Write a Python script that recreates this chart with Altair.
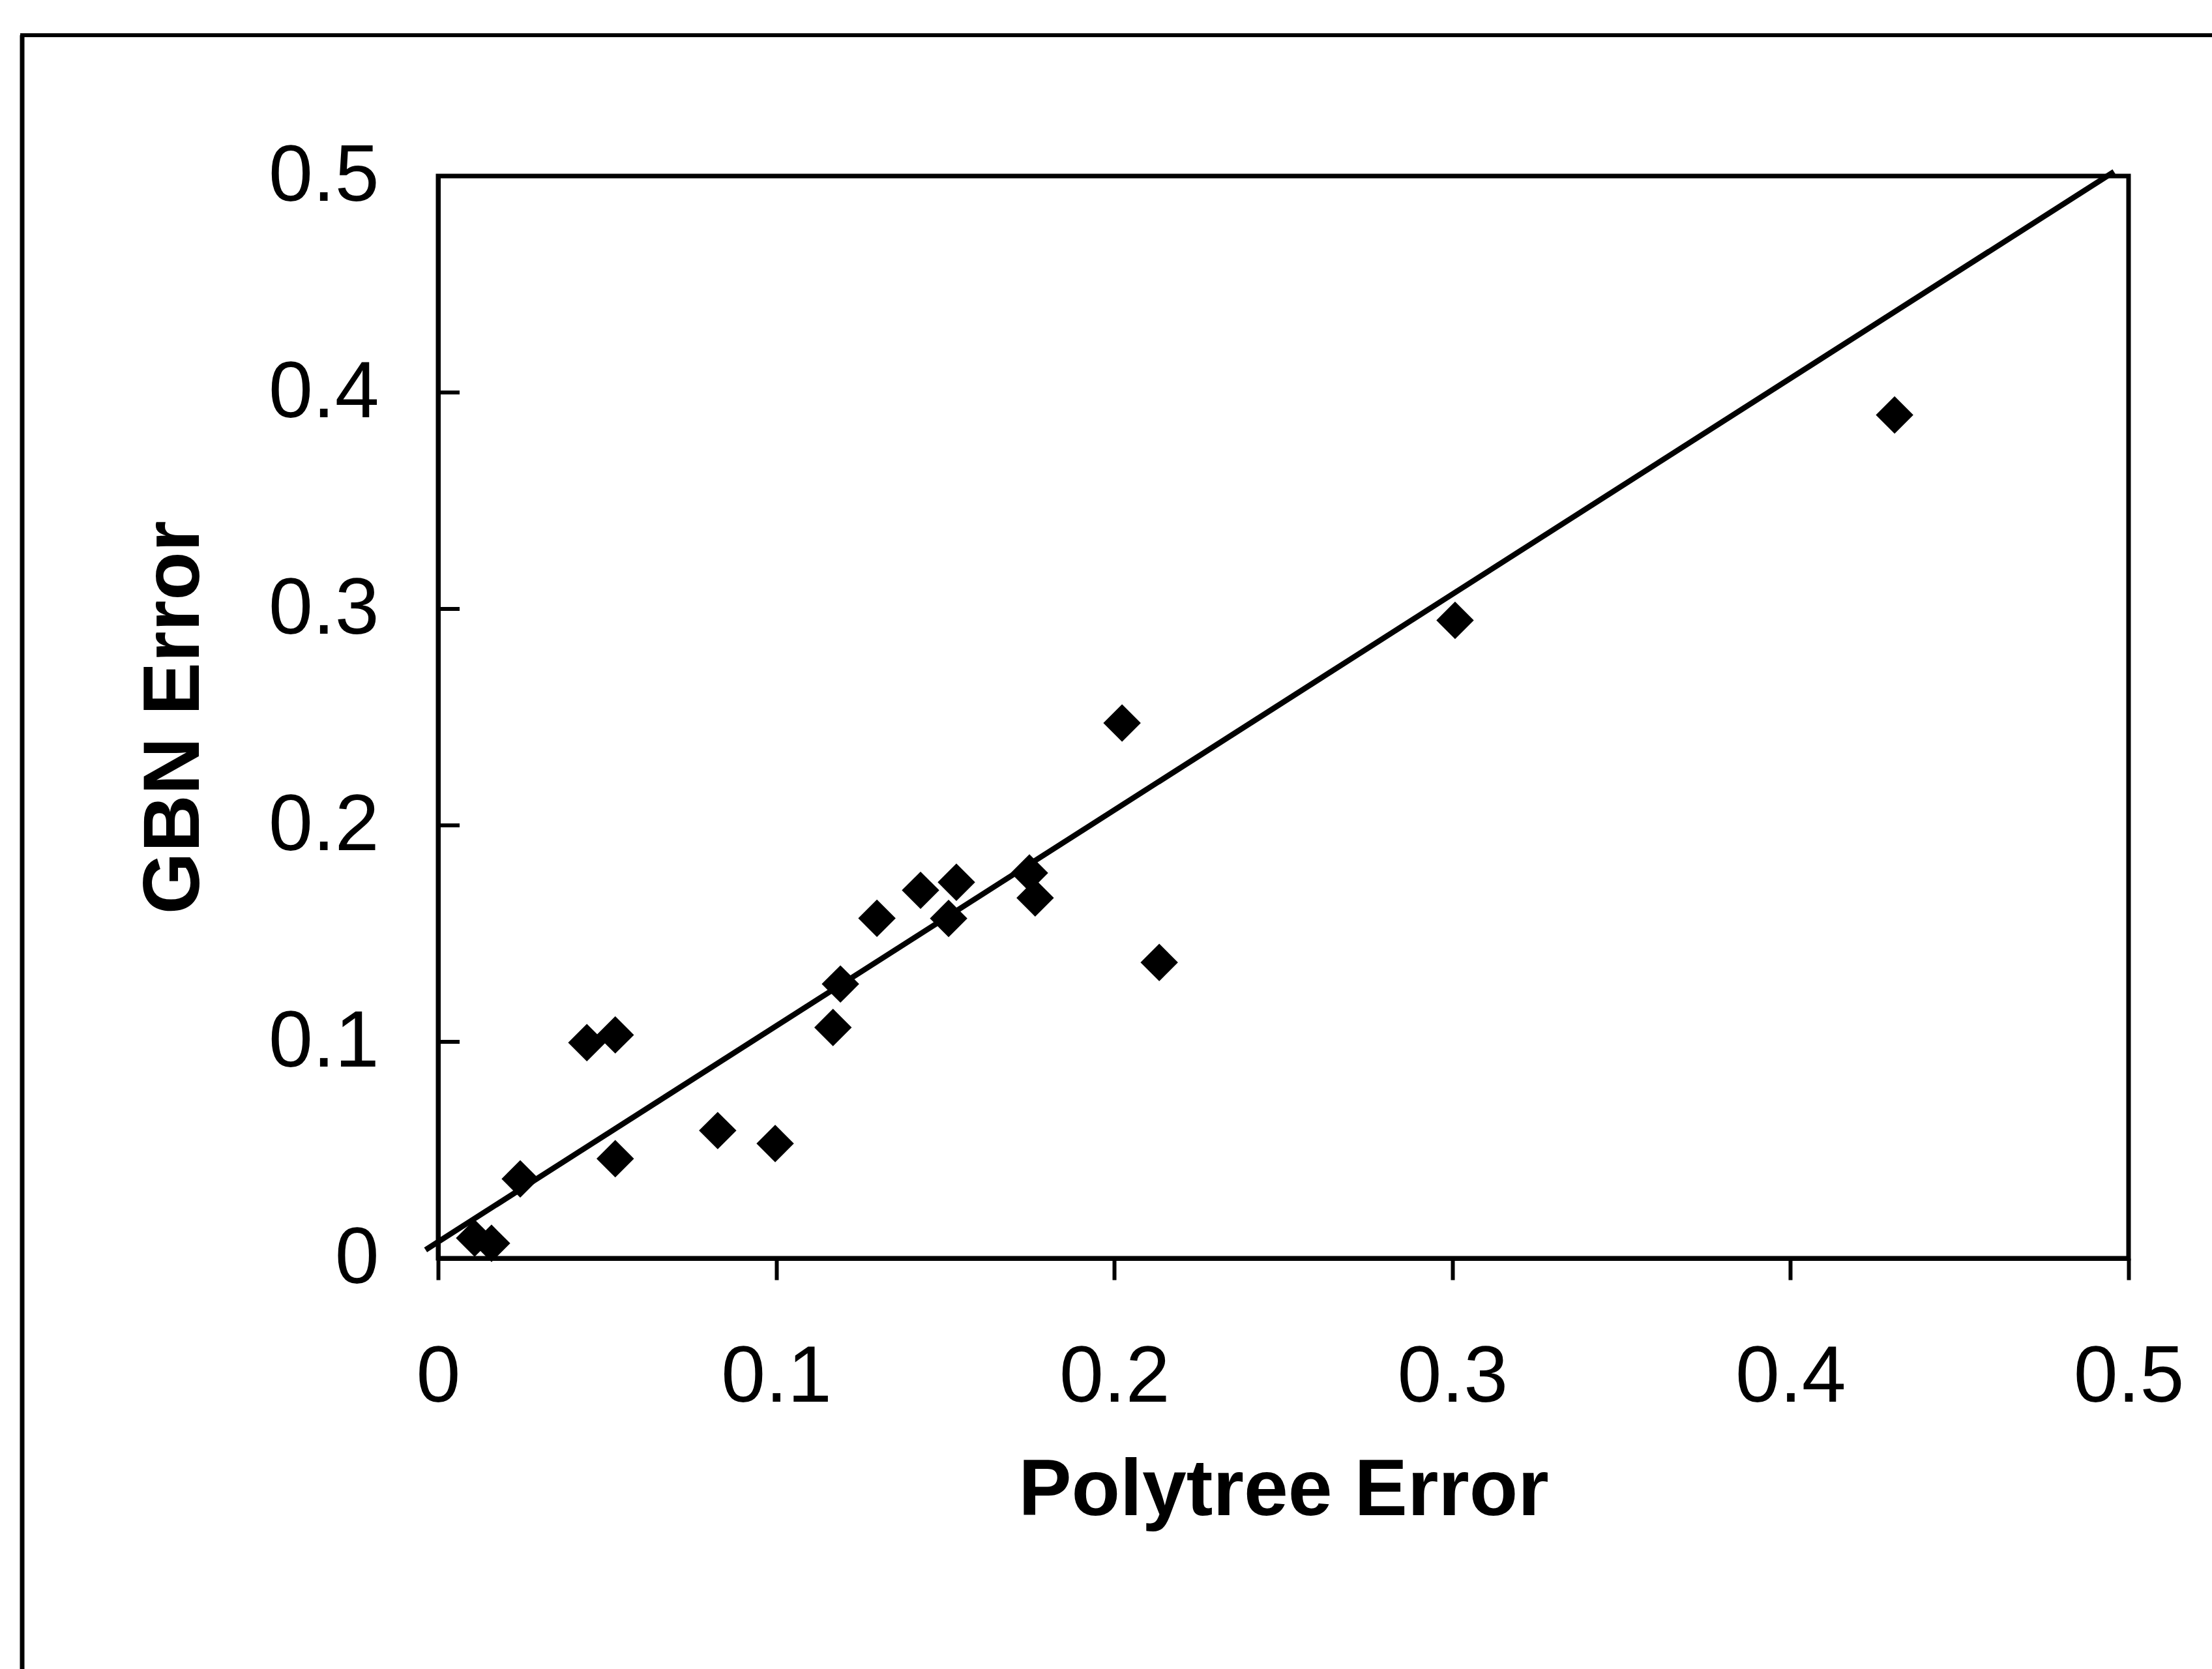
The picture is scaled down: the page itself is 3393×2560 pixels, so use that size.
import altair as alt
import pandas as pd

# ---- data ----
polytree_error = [0.0108, 0.0158, 0.0243, 0.0440, 0.0524, 0.0524, 0.0827, 0.0997,
                  0.1168, 0.1190, 0.1298, 0.1427, 0.1533, 0.1510, 0.1749, 0.1766,
                  0.2133, 0.2023, 0.3008, 0.4308]
gbn_error = [0.0093, 0.0069, 0.0367, 0.0996, 0.1032, 0.0460, 0.0590, 0.0530,
             0.1066, 0.1267, 0.1571, 0.1700, 0.1737, 0.1570, 0.1780, 0.1665,
             0.1367, 0.2473, 0.2947, 0.3896]

trend_x = [-0.0037, 0.4957]
trend_y = [0.0039, 0.5020]

axis_ticks = [0, 0.1, 0.2, 0.3, 0.4, 0.5]
y_inner_ticks = [0.1, 0.2, 0.3, 0.4]

FONT = "Liberation Sans"

pts = pd.DataFrame({"x": polytree_error, "y": gbn_error})
trend = pd.DataFrame({"x": trend_x, "y": trend_y})
yt = pd.DataFrame({"y": y_inner_ticks})
dummy = pd.DataFrame({"a": [0]})

xscale = alt.Scale(domain=[0, 0.5], nice=False, zero=False)
yscale = alt.Scale(domain=[0, 0.5], nice=False, zero=False)

xaxis = alt.Axis(
    title="Polytree Error", values=axis_ticks, format="~g", grid=False,
    domainColor="black", domainWidth=7,
    ticks=True, tickColor="black", tickWidth=6, tickSize=33,
    labelFont=FONT, labelFontSize=122, labelColor="black", labelPadding=90,
    labelFlush=False, labelOverlap=False,
    titleFont=FONT, titleFontSize=122, titleFontWeight="bold", titleColor="black",
    titlePadding=97,
)
yaxis = alt.Axis(
    title="GBN Error", values=axis_ticks, format="~g", grid=False,
    domainColor="black", domainWidth=7,
    ticks=False,
    labelFont=FONT, labelFontSize=122, labelColor="black", labelPadding=91,
    labelFlush=False, labelOverlap=False,
    titleFont=FONT, titleFontSize=122, titleFontWeight="bold", titleColor="black",
    titlePadding=142,
)

X = alt.X("x:Q", scale=xscale, axis=xaxis)
Y = alt.Y("y:Q", scale=yscale, axis=yaxis)

points = alt.Chart(pts).mark_point(
    shape="diamond", filled=True, size=3300, color="black", opacity=1
).encode(x=X, y=Y)

line = alt.Chart(trend).mark_line(color="black", strokeWidth=8.5, clip=False).encode(x=X, y=Y)

yticks = alt.Chart(yt).mark_rule(color="black", strokeWidth=6).encode(
    y=Y, x=alt.value(0), x2=alt.value(33)
)

frame_v = alt.Chart(dummy).mark_rule(color="black", strokeWidth=7, clip=False).encode(
    x=alt.value(-638), x2=alt.value(-638), y=alt.value(-216), y2=alt.value(2500)
)
frame_h = alt.Chart(dummy).mark_rule(color="black", strokeWidth=6, clip=False).encode(
    x=alt.value(-641), x2=alt.value(3000), y=alt.value(-216), y2=alt.value(-216)
)

chart = alt.layer(frame_v, frame_h, line, points, yticks).properties(
    width=2593,
    height=1660,
    autosize=alt.AutoSizeParams(type="none"),
    padding={"left": 672, "top": 270, "right": 128, "bottom": 630},
    background="white",
).configure_view(stroke="black", strokeWidth=7)

chart.save("out.html", embed_options={"renderer": "svg", "actions": False})
